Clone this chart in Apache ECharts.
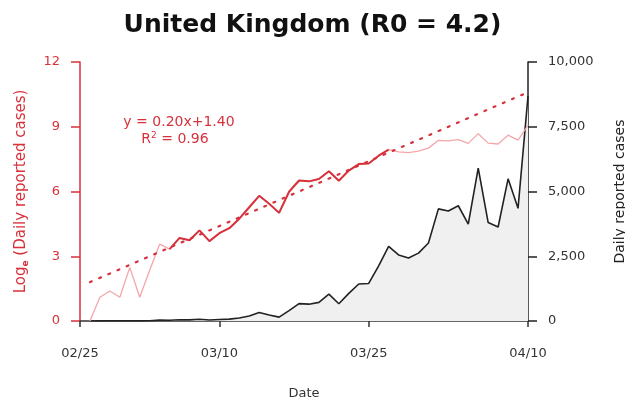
<!DOCTYPE html>
<html>
<head>
<meta charset="utf-8">
<script src="https://cdn.jsdelivr.net/npm/echarts@6/dist/echarts.min.js"></script>
<style>
html,body{margin:0;padding:0;background:#fff;overflow:hidden;}
#chart{width:625px;height:404px;}
</style>
</head>
<body>
<div id="chart"></div>
<script>
// ---- data ----
const dates = ['02/25','02/26','02/27','02/28','02/29','03/01','03/02','03/03','03/04','03/05',
  '03/06','03/07','03/08','03/09','03/10','03/11','03/12','03/13','03/14','03/15',
  '03/16','03/17','03/18','03/19','03/20','03/21','03/22','03/23','03/24','03/25',
  '03/26','03/27','03/28','03/29','03/30','03/31','04/01','04/02','04/03','04/04',
  '04/05','04/06','04/07','04/08','04/09','04/10'];
const tickLabels = ['02/25','03/10','03/25','04/10'];
// daily reported cases, 02/26 .. 04/10
const cases = [1,3,4,3,12,3,10,35,28,47,42,67,40,58,74,115,195,330,230,150,
  400,670,650,720,1035,665,1065,1430,1450,2130,2880,2550,2430,2620,3010,
  4330,4250,4450,3740,5900,3800,3630,5490,4350,8680];
// log_e of daily reported cases, 02/26 .. 04/10
const logCases = [0,1.10,1.39,1.10,2.48,1.10,2.35,3.56,3.33,3.85,3.74,4.20,3.70,4.07,4.30,
  4.74,5.27,5.80,5.43,5.01,5.99,6.51,6.47,6.58,6.94,6.50,6.97,7.27,7.30,7.66,
  7.94,7.84,7.80,7.87,8.01,8.37,8.35,8.40,8.23,8.68,8.24,8.20,8.61,8.38,9.07];
const fitRange = ['03/05','03/27'];       // period used for the regression
const fitDates = ['02/26','04/10'];
const fitValues = [1.8, 10.6];            // y = 0.20x + 1.40
const leftTicks = [0, 12, 3];             // min, max, interval
const rightTicks = [0, 10000, 2500];

// ---- build ----
const dataDates = dates.slice(1);
const casesData = dataDates.map((d, i) => [d, cases[i]]);
const logData = dataDates.map((d, i) => [d, logCases[i]]);
const i0 = dataDates.indexOf(fitRange[0]), i1 = dataDates.indexOf(fitRange[1]);
const fitPeriodData = logData.slice(i0, i1 + 1);
const fitData = fitDates.map((d, i) => [d, fitValues[i]]);
const tickIdx = tickLabels.map(t => dates.indexOf(t));

const RED = '#d7323c';
const PINK = '#f4a7ab';
const FONT = 'DejaVu Sans';

const chart = echarts.init(document.getElementById('chart'), null, {renderer: 'canvas', width: 625, height: 404});
chart.setOption({
  animation: false,
  backgroundColor: '#fff',
  textStyle: {fontFamily: FONT},
  title: {
    text: 'United Kingdom (R0 = 4.2)',
    left: 'center', top: 8,
    textStyle: {fontFamily: FONT, fontSize: 25, fontWeight: 'bold', color: '#111'}
  },
  grid: {left: 80, right: 97, top: 62, bottom: 83, containLabel: false, outerBoundsMode: 'none'},
  xAxis: {
    type: 'category',
    data: dates,
    boundaryGap: false,
    name: 'Date',
    nameLocation: 'middle',
    nameGap: 66,
    nameTextStyle: {fontFamily: FONT, fontSize: 13, color: '#333'},
    axisLine: {lineStyle: {color: '#333', width: 1.5}},
    axisTick: {show: true, length: 6, interval: (i) => tickIdx.includes(i), lineStyle: {color: '#333', width: 1.5}},
    axisLabel: {interval: (i) => tickIdx.includes(i), margin: 26, fontFamily: FONT, fontSize: 13, color: '#333'},
    splitLine: {show: false}
  },
  yAxis: [{
    type: 'value',
    min: leftTicks[0], max: leftTicks[1], interval: leftTicks[2],
    position: 'left',
    name: 'Log{sub|e} (Daily reported cases)',
    nameLocation: 'middle',
    nameRotate: 90,
    nameGap: 50,
    nameTextStyle: {fontFamily: FONT, fontSize: 15, color: RED,
      rich: {sub: {fontFamily: FONT, fontSize: 9, fontWeight: 'bold', color: RED, padding: [8, 0, 0, 0]}}},
    axisLine: {show: true, lineStyle: {color: RED, width: 1.5}},
    axisTick: {show: true, length: 9, lineStyle: {color: RED, width: 1.5}},
    axisLabel: {margin: 20, fontFamily: FONT, fontSize: 13, color: RED},
    splitLine: {show: false}
  }, {
    type: 'value',
    min: rightTicks[0], max: rightTicks[1], interval: rightTicks[2],
    position: 'right',
    name: 'Daily reported cases',
    nameLocation: 'middle',
    nameRotate: 90,
    nameGap: 85,
    nameTextStyle: {fontFamily: FONT, fontSize: 14, color: '#222'},
    axisLine: {show: true, lineStyle: {color: '#222', width: 1.5}},
    axisTick: {show: true, length: 9, lineStyle: {color: '#222', width: 1.5}},
    axisLabel: {margin: 20, fontFamily: FONT, fontSize: 13, color: '#333',
      formatter: (v) => v.toLocaleString('en-US')},
    splitLine: {show: false}
  }],
  series: [{
    type: 'line', yAxisIndex: 1, data: casesData,
    showSymbol: false, symbol: 'none',
    lineStyle: {color: '#222', width: 1.6},
    areaStyle: {color: '#f0f0f0', opacity: 1},
    z: 1
  }, {
    type: 'line', yAxisIndex: 0, data: logData,
    symbol: 'none',
    lineStyle: {color: PINK, width: 1.3},
    z: 2
  }, {
    type: 'line', yAxisIndex: 0, data: fitPeriodData,
    symbol: 'none',
    lineStyle: {color: RED, width: 2},
    z: 3
  }, {
    type: 'line', yAxisIndex: 0, data: fitData,
    symbol: 'none',
    lineStyle: {color: RED, width: 2.2, type: [2, 8], cap: 'round'},
    z: 4
  }],
  graphic: [{
    type: 'text', x: 179, y: 122,
    style: {text: 'y = 0.20x+1.40', fill: RED, font: '14px "DejaVu Sans"', align: 'center', verticalAlign: 'middle'}
  }, {
    type: 'text', x: 175, y: 139,
    style: {text: 'R{sup|2} = 0.96', fill: RED, font: '14px "DejaVu Sans"', align: 'center', verticalAlign: 'middle',
      rich: {sup: {fontSize: 9, fill: RED, fontFamily: FONT, padding: [0, 0, 7, 0]}}}
  }]
});
</script>
</body>
</html>
